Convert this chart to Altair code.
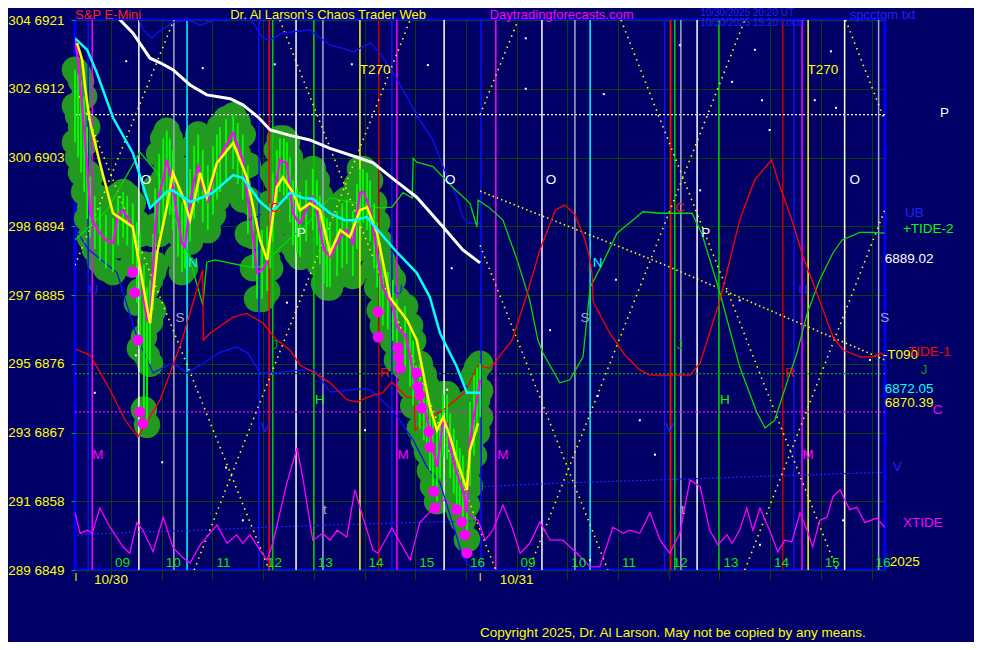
import altair as alt
import pandas as pd

BG = "#000066"
GRID = "#0a400a"
FONT = "Liberation Sans"

XMIN, XMAX = 8.29, 24.266
PMIN, PMAX = 6849, 6921

price_ticks = [6849, 6858, 6867, 6876, 6885, 6894, 6903, 6912, 6921]
alt_ticks = [289, 291, 293, 295, 297, 298, 300, 302, 304]
hour_ticks = list(range(9, 25))
hour_labels = ["09", "10", "11", "12", "13", "14", "15", "16",
               "09", "10", "11", "12", "13", "14", "15", "16"]

# ---- price bars (session hour, price) ----
close_t = [8.29, 8.35, 8.41, 8.47, 8.53, 8.59, 8.68, 8.78, 8.90, 9.04, 9.14, 9.24, 9.32, 9.43, 9.51, 9.57, 9.65, 9.71,
           9.77, 9.83, 9.87, 9.95, 10.03, 10.10, 10.16, 10.22, 10.32, 10.40, 10.46, 10.56, 10.64, 10.72, 10.81, 10.91,
           11.01, 11.09, 11.15, 11.27, 11.41, 11.50, 11.60, 11.70, 11.80, 11.88, 11.98, 12.08, 12.14, 12.19, 12.27,
           12.33, 12.41, 12.47, 12.53, 12.59, 12.67, 12.73, 12.85, 12.98, 13.06, 13.12, 13.20, 13.26, 13.32, 13.46,
           13.56, 13.65, 13.77, 13.85, 13.91, 13.97, 14.05, 14.11, 14.19, 14.25, 14.30, 14.36, 14.46, 14.56, 14.64,
           14.80, 14.90, 14.96, 15.09, 15.17, 15.23, 15.29, 15.35, 15.43, 15.49, 15.55, 15.63, 15.69, 15.76, 15.82,
           15.88, 15.94, 16.02, 16.08, 16.16, 16.22, 16.28]
close_p = [6918.6, 6915.8, 6911.2, 6906.6, 6902.0, 6895.7, 6894.2, 6893.1, 6892.2, 6891.8, 6895.5, 6896.1, 6895.2,
           6893.9, 6890.9, 6889.2, 6884.3, 6881.7, 6882.1, 6888.3, 6893.9, 6898.1, 6900.1, 6902.7, 6901.1, 6899.1,
           6894.8, 6891.8, 6891.3, 6897.0, 6900.1, 6901.8, 6899.1, 6897.4, 6900.1, 6902.0, 6903.1, 6904.6, 6906.2,
           6904.6, 6902.7, 6897.4, 6892.6, 6887.9, 6888.3, 6889.2, 6892.9, 6896.5, 6900.1, 6902.7, 6902.4, 6902.3,
           6898.7, 6895.7, 6894.8, 6894.4, 6896.1, 6897.8, 6895.9, 6893.5, 6890.9, 6890.5, 6890.0, 6891.8, 6892.9,
           6893.5, 6891.8, 6895.5, 6898.4, 6898.5, 6897.4, 6896.1, 6892.9, 6890.5, 6888.3, 6886.0, 6884.7, 6883.4,
           6880.8, 6879.8, 6877.1, 6874.5, 6871.6, 6870.3, 6869.0, 6866.9, 6864.7, 6862.5, 6865.4, 6868.6, 6868.2,
           6865.1, 6863.1, 6861.7, 6860.5, 6859.5, 6856.5, 6866.0, 6869.3, 6871.3, 6873.9]
bar_hi = [6914.5, 6914.0, 6913.0, 6911.0, 6907.0, 6900.5, 6898.0, 6896.5, 6895.5, 6895.0, 6898.0, 6898.5, 6898.0,
          6897.0, 6894.5, 6893.0, 6889.0, 6886.0, 6887.0, 6893.0, 6899.0, 6903.5, 6905.5, 6906.5, 6905.5, 6904.0,
          6899.5, 6897.0, 6896.5, 6901.5, 6904.5, 6906.0, 6904.0, 6902.0, 6904.5, 6906.0, 6907.0, 6908.0, 6908.5,
          6907.5, 6906.0, 6902.0, 6897.0, 6893.0, 6893.5, 6894.0, 6897.0, 6901.0, 6904.0, 6905.5, 6905.5, 6905.0,
          6903.0, 6900.0, 6899.0, 6898.5, 6900.0, 6901.5, 6900.0, 6898.0, 6895.5, 6895.0, 6894.5, 6896.0, 6897.0,
          6897.5, 6896.0, 6899.5, 6901.5, 6901.5, 6901.0, 6900.0, 6897.0, 6894.5, 6892.0, 6889.5, 6888.0, 6887.0,
          6884.5, 6883.5, 6881.0, 6879.0, 6876.0, 6874.5, 6873.0, 6871.0, 6869.0, 6867.0, 6869.5, 6872.0, 6872.0,
          6869.5, 6867.5, 6866.0, 6865.0, 6864.0, 6862.0, 6871.0, 6874.5, 6875.5, 6876.0]
bar_lo = [6905.0, 6903.0, 6901.0, 6898.5, 6895.0, 6892.5, 6891.0, 6889.5, 6888.5, 6888.0, 6891.5, 6892.5, 6891.5,
          6889.0, 6884.0, 6878.0, 6870.0, 6868.0, 6876.0, 6883.0, 6889.0, 6893.0, 6894.5, 6897.0, 6895.5, 6893.5,
          6890.0, 6888.0, 6888.5, 6892.0, 6895.0, 6897.0, 6894.5, 6893.5, 6895.5, 6897.5, 6898.5, 6900.0, 6901.5,
          6899.5, 6897.5, 6893.0, 6888.5, 6884.5, 6884.5, 6885.5, 6888.5, 6892.0, 6896.0, 6898.5, 6898.0, 6897.5,
          6894.5, 6891.5, 6890.5, 6890.0, 6892.0, 6893.5, 6891.5, 6889.0, 6886.5, 6886.0, 6886.0, 6887.5, 6888.5,
          6889.0, 6887.5, 6891.0, 6894.0, 6894.5, 6893.5, 6892.0, 6888.5, 6886.0, 6883.0, 6881.0, 6880.5, 6879.0,
          6876.5, 6875.5, 6873.0, 6870.5, 6867.5, 6866.0, 6864.5, 6862.0, 6860.0, 6858.0, 6861.0, 6864.0, 6863.5,
          6861.0, 6859.0, 6857.5, 6856.5, 6855.5, 6853.0, 6860.0, 6864.0, 6867.0, 6869.0]

low_dot_t = [9.43, 9.47, 9.53, 9.57, 9.63, 14.27, 14.27, 14.66, 14.68, 14.70, 15.03, 15.05, 15.09, 15.13, 15.27,
             15.29, 15.37, 15.39, 15.82, 15.92, 15.98, 16.02]
low_dot_p = [6888.0, 6885.3, 6879.1, 6869.7, 6868.2, 6882.8, 6879.5, 6878.1, 6876.8, 6875.4, 6874.8, 6873.0,
             6871.9, 6870.2, 6867.1, 6865.1, 6859.3, 6857.1, 6856.9, 6855.3, 6853.6, 6851.2]

# ---- averages ----
yel_t = [8.33, 8.43, 8.49, 8.55, 8.59, 8.78, 9.04, 9.24, 9.43, 9.71, 9.77, 9.91, 10.10, 10.22, 10.42, 10.56, 10.76,
         10.89, 11.09, 11.41, 11.68, 11.94, 12.08, 12.27, 12.39, 12.59, 12.73, 12.92, 13.12, 13.32, 13.52, 13.71,
         13.91, 14.05, 14.25, 14.50, 14.84, 15.03, 15.29, 15.43, 15.55, 15.69, 15.82, 16.02, 16.08, 16.24]
yel_p = [6918.0, 6915.8, 6912.2, 6909.2, 6907.5, 6902.3, 6895.7, 6894.8, 6893.9, 6883.4, 6881.3, 6890.5, 6896.5,
         6901.0, 6897.8, 6894.8, 6901.0, 6897.8, 6902.3, 6904.9, 6900.4, 6892.2, 6889.6, 6899.1, 6900.4, 6898.4,
         6896.1, 6897.0, 6896.1, 6890.5, 6893.5, 6892.6, 6896.1, 6896.5, 6893.1, 6884.7, 6881.7, 6879.1, 6870.3,
         6867.3, 6869.0, 6866.4, 6863.4, 6859.5, 6864.7, 6868.2]
cyan_t = [8.29, 8.53, 8.72, 9.04, 9.43, 9.77, 10.10, 10.22, 10.56, 10.81, 11.01, 11.41, 11.60, 11.94, 12.14, 12.27,
          12.53, 12.79, 12.98, 13.32, 13.61, 13.77, 14.05, 14.30, 14.64, 15.03, 15.29, 15.49, 15.82, 16.02, 16.28]
cyan_p = [6918.6, 6917.1, 6914.1, 6908.2, 6903.6, 6896.4, 6898.5, 6898.7, 6897.2, 6897.8, 6898.4, 6900.7, 6900.3,
          6897.2, 6896.1, 6896.5, 6898.4, 6897.7, 6897.6, 6895.7, 6894.8, 6894.8, 6895.2, 6893.2, 6890.6, 6887.9,
          6884.7, 6880.0, 6875.6, 6872.2, 6872.2]
white_t = [9.10, 9.18, 9.43, 9.77, 9.97, 10.22, 10.56, 10.89, 11.35, 11.60, 11.90, 12.14, 12.53, 12.92, 13.32, 13.91,
           14.17, 14.64, 15.03, 15.55, 15.94, 16.28]
white_p = [6922.5, 6921.0, 6919.3, 6916.0, 6915.4, 6914.5, 6912.5, 6911.2, 6910.7, 6909.9, 6908.3, 6906.6, 6905.9,
           6905.3, 6904.2, 6902.9, 6902.3, 6899.8, 6897.8, 6893.9, 6890.9, 6889.2]

# ---- cycle / tide lines ----
red_t = [8.31, 8.59, 8.98, 9.28, 9.53, 9.67, 9.97, 10.26, 10.40, 10.81, 10.82, 10.95, 11.41, 11.68, 12.00, 12.27,
         12.53, 12.73, 13.02, 13.32, 13.65, 13.85, 14.17, 14.36, 14.54, 14.84, 14.98, 15.00, 15.29, 15.55, 15.98,
         16.24, 16.47, 16.61, 16.91, 17.20, 17.46, 17.76, 17.95, 18.15, 18.35, 18.45, 18.49, 18.51, 18.84, 19.14,
         19.43, 19.63, 19.83, 20.42, 20.62, 21.01, 21.40, 21.70, 22.03, 22.15, 22.45, 22.65, 22.92, 23.24, 23.44,
         23.77, 24.03, 24.16, 24.26]
red_p = [6877.9, 6877.1, 6872.6, 6868.6, 6866.4, 6868.0, 6871.3, 6876.5, 6879.1, 6888.3, 6879.1, 6880.0, 6882.1,
         6882.6, 6881.3, 6879.1, 6877.8, 6875.8, 6874.8, 6873.5, 6871.3, 6871.0, 6871.9, 6872.2, 6873.6, 6871.6,
         6871.6, 6867.3, 6869.0, 6869.9, 6872.3, 6875.8, 6875.4, 6876.5, 6879.1, 6885.0, 6890.9, 6896.1, 6896.8,
         6895.5, 6892.2, 6889.6, 6887.6, 6884.1, 6880.0, 6877.1, 6875.2, 6874.5, 6874.5, 6874.5, 6876.1, 6884.3,
         6894.8, 6900.1, 6902.7, 6900.1, 6894.4, 6890.0, 6885.3, 6879.5, 6877.8, 6876.9, 6876.9, 6877.4, 6877.1]
grn_t = [8.29, 8.92, 9.57, 9.91, 10.50, 10.81, 10.89, 11.05, 11.70, 11.98, 12.23, 12.57, 12.88, 13.32, 14.30, 14.54,
         14.76, 14.94, 14.96, 15.03, 15.35, 15.74, 16.08, 16.22, 16.24, 16.47, 16.73, 17.01, 17.26, 17.42, 17.52,
         17.85, 18.05, 18.31, 18.45, 18.70, 18.98, 19.29, 19.49, 19.83, 20.46, 20.65, 21.01, 21.40, 21.74, 21.90,
         22.09, 22.33, 22.53, 22.73, 22.98, 23.24, 23.42, 23.77, 24.03, 24.26]
grn_p = [6892.2, 6896.1, 6903.7, 6901.0, 6890.9, 6883.7, 6889.3, 6889.6, 6888.7, 6888.7, 6890.5, 6892.6, 6894.4,
         6897.7, 6896.4, 6896.5, 6898.4, 6897.7, 6902.9, 6902.4, 6901.8, 6899.1, 6897.0, 6893.9, 6897.4, 6896.4,
         6894.8, 6889.6, 6884.3, 6879.1, 6877.4, 6873.5, 6873.9, 6876.9, 6886.0, 6889.2, 6893.1, 6894.8, 6895.9,
         6895.7, 6895.7, 6893.1, 6885.3, 6875.6, 6869.6, 6867.6, 6868.6, 6873.5, 6877.4, 6882.6, 6887.0, 6890.5,
         6892.2, 6893.2, 6893.2, 6893.1]
blue1_t = [8.31, 8.55, 9.12, 9.51, 9.83, 10.22, 10.50, 10.76, 11.15, 11.48, 11.70, 11.94, 12.27, 12.73, 13.02,
           13.22, 13.32, 13.97, 14.11, 14.56, 14.96, 15.23, 15.49, 15.94, 16.08, 16.28]
blue1_p = [6893.5, 6891.0, 6887.9, 6879.5, 6874.8, 6876.1, 6874.8, 6875.8, 6877.5, 6878.2, 6877.4, 6874.8, 6874.8,
           6875.2, 6875.2, 6873.2, 6872.3, 6872.7, 6872.6, 6869.9, 6866.0, 6862.5, 6860.4, 6850.7, 6849.4, 6849.0]
blue2_t = [9.53, 9.63, 9.81, 9.91, 10.22, 10.52, 10.76, 10.91, 11.09, 11.45, 11.80, 12.00, 12.14, 12.39, 12.92,
           13.32, 13.58, 13.77, 14.11, 14.30, 14.56, 14.84, 15.09, 15.35, 15.55, 15.82, 15.94, 16.04, 16.28]
blue2_p = [6921.5, 6919.7, 6918.6, 6919.3, 6920.7, 6921.0, 6920.3, 6920.7, 6921.0, 6923.0, 6920.7, 6918.6, 6918.4,
           6919.3, 6919.7, 6917.7, 6917.3, 6916.8, 6918.0, 6916.7, 6914.1, 6910.9, 6907.9, 6905.3, 6901.8, 6897.8,
           6895.2, 6894.4, 6894.4]
xtide_t = [8.29, 8.39, 8.53, 8.63, 8.78, 8.98, 9.24, 9.37, 9.51, 9.63, 9.83, 10.03, 10.22, 10.40, 10.56, 10.76,
           11.09, 11.29, 11.48, 11.60, 11.74, 11.94, 12.08, 12.19, 12.47, 12.67, 12.79, 12.98, 13.18, 13.32, 13.46,
           13.65, 13.81, 13.97, 14.17, 14.27, 14.54, 14.90, 15.09, 15.29, 15.55, 15.82, 16.02, 16.24, 16.38, 16.53,
           16.73, 16.91, 17.07, 17.26, 17.46, 17.66, 17.91, 18.19, 18.45, 18.64, 18.90, 19.10, 19.23, 19.43, 19.63,
           19.83, 20.02, 20.22, 20.42, 20.62, 20.81, 20.97, 21.15, 21.25, 21.40, 21.54, 21.66, 21.80, 21.99, 22.15,
           22.29, 22.43, 22.59, 22.73, 22.84, 22.98, 23.12, 23.24, 23.38, 23.47, 23.57, 23.71, 23.87, 24.10, 24.26]
xtide_p = [6856.5, 6853.8, 6854.2, 6853.8, 6857.1, 6854.6, 6852.0, 6851.2, 6855.2, 6854.2, 6851.4, 6855.9, 6852.0,
           6850.7, 6849.9, 6852.3, 6854.9, 6852.5, 6853.6, 6852.5, 6853.6, 6851.6, 6850.3, 6852.5, 6860.4, 6865.0,
           6860.8, 6852.9, 6853.8, 6852.9, 6854.2, 6853.3, 6859.5, 6855.9, 6851.6, 6851.2, 6854.5, 6850.3, 6855.2,
           6856.6, 6858.2, 6857.2, 6856.5, 6855.5, 6852.9, 6854.2, 6857.5, 6854.6, 6851.2, 6852.5, 6855.3, 6852.9,
           6852.9, 6851.2, 6849.4, 6849.4, 6854.6, 6853.8, 6854.2, 6853.8, 6856.5, 6852.9, 6851.2, 6853.8, 6860.8,
           6859.9, 6854.2, 6852.3, 6853.6, 6852.5, 6854.2, 6857.1, 6854.2, 6857.1, 6854.2, 6851.4, 6852.9, 6852.7,
           6856.5, 6854.2, 6852.0, 6855.5, 6855.9, 6858.6, 6859.5, 6858.2, 6856.9, 6857.2, 6855.2, 6855.8, 6854.6]

# dotted levels / projections
level_p = [6908.6, 6874.7, 6869.7]
level_kind = ["white", "green", "magenta"]
vdot1_t = [8.33, 9.63, 10.76, 12.08, 13.32, 15.49, 16.18]
vdot1_p = [6853.6, 6854.0, 6854.2, 6854.6, 6854.9, 6855.3, 6855.4]
vdot2_t = [16.28, 17.91, 19.83, 24.26]
vdot2_p = [6859.9, 6860.4, 6860.8, 6861.8]
trend_t = [16.28, 19.83, 24.26]
trend_p = [6898.6, 6889.2, 6876.5]
zz_t1 = [8.29, 8.29, 10.64, 12.33, 16.28, 16.28, 17.24, 19.06, 23.49, 21.50]
zz_p1 = [6888.9, 6912.5, 6849.0, 6921.0, 6891.5, 6908.6, 6849.0, 6921.0, 6921.0, 6849.0]
zz_t2 = [10.24, 12.12, 14.90, 16.59, 18.80, 17.03, 21.50, 23.32, 24.26, 24.26]
zz_p2 = [6921.0, 6849.0, 6921.0, 6849.0, 6849.0, 6921.0, 6921.0, 6849.0, 6907.9, 6896.1]

# time lines
vline_t = [8.55, 8.63, 9.55, 10.24, 10.50, 11.92, 12.12, 12.19, 12.65, 13.00, 13.18, 13.91, 14.28, 14.54, 14.64,
           15.57, 16.30, 16.59, 17.50, 18.15, 18.45, 19.92, 20.04, 20.12, 20.24, 20.56, 20.99, 22.25, 22.47, 22.63,
           22.75, 23.47, 24.14]
vline_kind = ["blue", "magenta", "white", "gray", "cyan", "blue", "red", "green", "white", "green", "gray", "yellow",
              "darkred", "blue", "magenta", "white", "blue", "magenta", "white", "gray", "cyan", "blue", "red",
              "green", "gray", "white", "green", "darkred", "blue", "magenta", "yellow", "white", "gray"]

star_t = [9.30, 10.81, 12.23, 13.75, 15.25, 17.18, 17.18, 18.72, 21.70, 21.25, 21.84, 23.20, 23.30, 15.72, 15.63,
          17.66, 18.60, 18.96, 19.43, 18.45, 8.68, 9.49, 11.27, 10.01, 11.60, 20.22, 21.99, 20.62, 22.88, 21.40,
          23.97, 19.73, 21.80, 23.44, 12.47, 13.32, 14.01]
star_p = [6915.6, 6914.7, 6915.2, 6915.2, 6915.1, 6918.6, 6912.0, 6911.3, 6917.1, 6912.9, 6910.5, 6916.9, 6909.5,
          6888.5, 6872.6, 6880.4, 6871.8, 6887.0, 6868.6, 6850.3, 6872.2, 6877.1, 6862.4, 6863.1, 6855.5, 6917.7,
          6906.6, 6898.7, 6910.5, 6884.3, 6876.5, 6864.1, 6852.3, 6855.5, 6884.0, 6894.2, 6867.3]

letter_text = ["O", "O", "O", "O", "N", "N", "S", "S", "S", "P", "P", "C", "C", "U", "U", "U", "V", "V", "J", "J",
               "H", "H", "R", "R", "M", "M", "M", "M", "t", "t", "T270", "T270"]
letter_t = [9.69, 15.69, 17.68, 23.67, 10.62, 18.60, 10.36, 18.35, 24.26, 12.75, 20.73, 12.23, 20.22, 8.65, 14.66,
            22.65, 12.04, 20.02, 12.23, 20.22, 13.12, 21.11, 14.40, 22.39, 8.74, 14.76, 16.73, 22.75, 13.22, 20.28,
            14.21, 23.04]
letter_p = [6900.1, 6900.1, 6900.1, 6900.1, 6889.2, 6889.2, 6882.0, 6882.0, 6882.0, 6893.1, 6893.1, 6896.4, 6896.4,
            6885.7, 6885.7, 6885.7, 6867.6, 6867.6, 6878.5, 6878.5, 6871.3, 6871.3, 6874.8, 6874.8, 6864.1, 6864.1,
            6864.1, 6864.1, 6856.9, 6856.9, 6914.5, 6914.5]

right_text = ["P", "UB", "+TIDE-2", "6889.02", "-T090", "TIDE-1", "J", "6872.05", "6870.39", "C", "V", "XTIDE", "2025"]
right_t = [25.35, 24.66, 24.62, 24.26, 24.22, 24.72, 24.97, 24.26, 24.26, 25.21, 24.42, 24.62, 24.36]
right_p = [6908.8, 6895.7, 6893.6, 6889.7, 6877.1, 6877.5, 6875.2, 6872.7, 6870.9, 6869.9, 6862.5, 6855.2, 6850.0]

# ---------------- scales / axes ----------------
XS = alt.Scale(domain=[XMIN, XMAX], nice=False, zero=False)
YS = alt.Scale(domain=[PMIN, PMAX], nice=False, zero=False)
label_expr = " : ".join(f"datum.value == {v} ? '{a} {v}'" for a, v in zip(alt_ticks, price_ticks)) + " : ''"
XAXIS = alt.Axis(values=hour_ticks, labels=False, grid=True, gridColor=GRID, gridWidth=1, ticks=True,
                 tickColor=GRID, tickSize=10, domain=False, title=None)
YAXIS = alt.Axis(values=price_ticks, labelExpr=label_expr, grid=True, gridColor=GRID, gridWidth=1,
                 tickColor="#00b000", tickSize=4, labelColor="#ffff00", labelFont=FONT, labelFontSize=13.5,
                 labelPadding=7, domain=False, title=None)


def X(f="t"):
    return alt.X(f"{f}:Q", scale=XS, axis=XAXIS)


def Y(f="p"):
    return alt.Y(f"{f}:Q", scale=YS, axis=YAXIS)


def line(ts, ps, color, width, dash=None, clip=True):
    df = pd.DataFrame({"t": ts, "p": ps, "o": list(range(len(ts)))})
    kw = dict(color=color, strokeWidth=width, clip=clip)
    if dash:
        kw["strokeDash"] = dash
    return alt.Chart(df).mark_line(**kw).encode(x=X(), y=Y(), order="o:Q")


def text_layer(ts, ps, texts, color, size=13.5, align="left", baseline="alphabetic", weight="normal"):
    df = pd.DataFrame({"t": ts, "p": ps, "text": texts})
    return alt.Chart(df).mark_text(align=align, baseline=baseline, fontSize=size, font=FONT, color=color,
                                   fontWeight=weight).encode(x=X(), y=Y(), text="text:N")


# ---------------- layers ----------------
bars = pd.DataFrame({"t": close_t, "p": close_p, "hi": bar_hi, "lo": bar_lo})
bars["mid"] = (bars["hi"] + bars["lo"]) / 2
blob_df = pd.concat([bars[["t", "hi"]].rename(columns={"hi": "p"}),
                     bars[["t", "lo"]].rename(columns={"lo": "p"}),
                     bars[["t", "mid"]].rename(columns={"mid": "p"})], ignore_index=True)
blobs = alt.Chart(blob_df).mark_circle(size=700, color="#229a1f", opacity=1).encode(x=X(), y=Y())

vkinds = ["blue", "magenta", "white", "gray", "cyan", "red", "darkred", "green", "yellow"]
vcols = ["#1010ff", "#ff00ff", "#ffffff", "#a8a8c8", "#00ffff", "#ff0000", "#c00000", "#00cc00", "#ffff00"]
vlines = alt.Chart(pd.DataFrame({"t": vline_t, "k": vline_kind})).mark_rule(strokeWidth=1.5).encode(
    x=X(), color=alt.Color("k:N", scale=alt.Scale(domain=vkinds, range=vcols), legend=None))

levels = alt.Chart(pd.DataFrame({"p": level_p, "k": level_kind})).mark_rule(
    strokeWidth=1.2, strokeDash=[2, 2]).encode(
    y=Y(), color=alt.Color("k:N", scale=alt.Scale(domain=["white", "green", "magenta"],
                                                   range=["#ffffff", "#00a000", "#ff00ff"]), legend=None))

zigzag = alt.Chart(pd.DataFrame({"t": zz_t1, "p": zz_p1, "t2": zz_t2, "p2": zz_p2})).mark_rule(
    color="#ffff00", strokeWidth=1.6, strokeDash=[1.5, 4.5], clip=True).encode(
    x=X(), y=Y(), x2="t2:Q", y2="p2:Q")

stars = alt.Chart(pd.DataFrame({"t": star_t, "p": star_p})).mark_square(size=4, color="#ffffff", opacity=1).encode(
    x=X(), y=Y())

candles = alt.Chart(bars).mark_rule(color="#00ff00", strokeWidth=1.8).encode(x=X(), y=Y("lo"), y2="hi:Q")

dots = alt.Chart(pd.DataFrame({"t": low_dot_t, "p": low_dot_p})).mark_circle(
    size=120, color="#ff00ff", opacity=1).encode(x=X(), y=Y())

ldomain = ["O", "N", "S", "P", "C", "U", "V", "J", "H", "R", "M", "t", "T270"]
lrange = ["#ffffff", "#00ffff", "#a8a8c8", "#ffffff", "#ff0000", "#2020ff", "#2020ff", "#00a000", "#00ff00",
          "#ff0000", "#ff00ff", "#a8a8c8", "#ffff00"]
letters = alt.Chart(pd.DataFrame({"t": letter_t, "p": letter_p, "text": letter_text})).mark_text(
    align="center", baseline="middle", fontSize=13.5, font=FONT).encode(
    x=X(), y=Y(), text="text:N",
    color=alt.Color("text:N", scale=alt.Scale(domain=ldomain, range=lrange), legend=None))

rcols = ["#ffffff", "#2020ff", "#00ff00", "#ffffff", "#ffff00", "#ff0000", "#00a000", "#00ffff", "#ffff00",
         "#ff00ff", "#2020ff", "#ff00ff", "#ffff00"]
right = alt.Chart(pd.DataFrame({"t": right_t, "p": right_p, "text": right_text})).mark_text(
    align="left", baseline="middle", fontSize=13.5, font=FONT).encode(
    x=X(), y=Y(), text="text:N",
    color=alt.Color("text:N", scale=alt.Scale(domain=right_text, range=rcols), legend=None))

hours = alt.Chart(pd.DataFrame({"t": hour_ticks, "text": hour_labels, "p": [6849.4] * len(hour_ticks)})).mark_text(
    align="left", baseline="alphabetic", fontSize=13.5, font=FONT, color="#00ee00", dx=4).encode(
    x=X(), y=Y(), text="text:N")

dates = text_layer([9.0, 17.0], [6847.2, 6847.2], ["10/30", "10/31"], "#ffff00", align="center")
ibars = text_layer([8.31, 16.28], [6847.6, 6847.6], ["I", "I"], "#ffff00", size=10, align="center")
h1 = text_layer([8.29], [6921.1], ["S&P E-Mini"], "#ff2020", size=13)
h2 = text_layer([11.35], [6921.1], ["Dr. Al Larson's Chaos Trader Web"], "#ffff00", size=13)
h3 = text_layer([16.47], [6921.1], ["Daytradingforecasts.com"], "#ff00ff", size=13)
h4 = text_layer([20.62, 20.62], [6921.5, 6920.2], ["10/30/2025 20:20 UT", "10/30/2025 15:20 Local"], "#2020ff",
                size=10)
h5 = text_layer([23.57], [6921.1], ["spcctom.txt"], "#2020ff", size=13)
foot = text_layer([16.28], [6840.2], ["Copyright 2025, Dr. Al Larson. May not be copied by any means."], "#ffff00")

chart = alt.layer(
    blobs,
    vlines,
    levels,
    line(vdot1_t, vdot1_p, "#2020ff", 1.2, dash=[2, 2]),
    line(vdot2_t, vdot2_p, "#2020ff", 1.2, dash=[2, 2]),
    zigzag,
    line(trend_t, trend_p, "#ffff00", 1.6, dash=[1.5, 3]),
    stars,
    line(xtide_t, xtide_p, "#ff00ff", 1.3),
    line(blue1_t, blue1_p, "#1010ff", 1.3),
    line(blue2_t, blue2_p, "#1010ff", 1.3),
    line(grn_t, grn_p, "#00dd00", 1.3),
    line(red_t, red_p, "#ff0000", 1.3),
    candles,
    line(close_t, close_p, "#ff00ff", 2.2),
    dots,
    line(yel_t, yel_p, "#ffff00", 2.5),
    line(cyan_t, cyan_p, "#00ffff", 2.5),
    line(white_t, white_p, "#ffffff", 3),
    letters,
    right,
    hours,
    dates,
    ibars,
    h1, h2, h3, h4, h5,
    foot,
).resolve_scale(
    color="independent"
).properties(
    width=810,
    height=550,
    autosize=alt.AutoSizeParams(type="none"),
    padding={"left": 67, "top": 12, "right": 89, "bottom": 72},
    background=BG,
).configure_view(
    stroke="#0000ff", strokeWidth=3, fill=BG
)

chart.save("out.html", embed_options={"renderer": "svg", "actions": False})
